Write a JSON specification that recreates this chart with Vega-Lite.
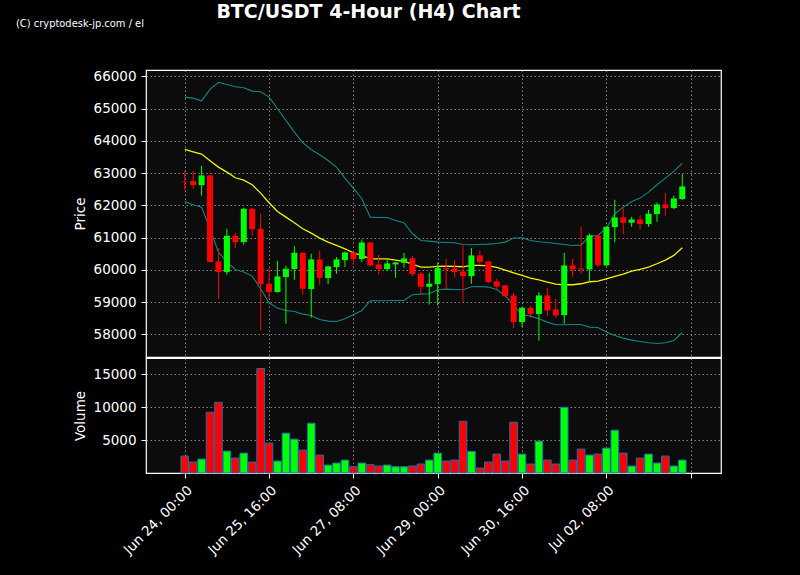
{
  "$schema": "https://vega.github.io/schema/vega-lite/v6.json",
  "background": "black",
  "padding": {"left": 15, "top": 2, "right": 80, "bottom": 30},
  "title": {"text": "BTC/USDT 4-Hour (H4) Chart", "fontSize": 19, "font": "DejaVu Sans", "fontWeight": "bold", "color": "white", "anchor": "middle", "offset": -4},
  "spacing": -1,
  "config": {
    "view": {"fill": "#0c0c0c", "stroke": "white", "strokeWidth": 1.2},
    "axis": {"labelColor": "white", "titleColor": "white", "tickColor": "white", "gridColor": "#a0a0a0", "gridDash": [1.5, 2.5], "gridWidth": 0.8, "labelFont": "DejaVu Sans", "titleFont": "DejaVu Sans", "labelFontSize": 13.5, "titleFontSize": 13.5, "titleFontWeight": "normal", "tickSize": 5, "labelPadding": 5, "titlePadding": 6, "domain": false, "labelOverlap": false}
  },
  "datasets": {
    "candles": [
      {"t": "2024-06-24T00:00:00Z", "o": 62740, "h": 63085, "l": 62465, "c": 62725, "v": 2576, "ub": 65359, "mb": 63737, "lb": 62124},
      {"t": "2024-06-24T04:00:00Z", "o": 62755, "h": 63065, "l": 62517, "c": 62630, "v": 1667, "ub": 65328, "mb": 63664, "lb": 62021},
      {"t": "2024-06-24T08:00:00Z", "o": 62630, "h": 63230, "l": 62300, "c": 62930, "v": 2121, "ub": 65245, "mb": 63592, "lb": 61948},
      {"t": "2024-06-24T12:00:00Z", "o": 62930, "h": 62950, "l": 60230, "c": 60243, "v": 9242, "ub": 65597, "mb": 63385, "lb": 61276},
      {"t": "2024-06-24T16:00:00Z", "o": 60264, "h": 60677, "l": 59106, "c": 59933, "v": 10758, "ub": 65814, "mb": 63189, "lb": 60553},
      {"t": "2024-06-24T20:00:00Z", "o": 59933, "h": 61276, "l": 59850, "c": 61059, "v": 3333, "ub": 65752, "mb": 63034, "lb": 60243},
      {"t": "2024-06-25T00:00:00Z", "o": 61059, "h": 61152, "l": 60677, "c": 60863, "v": 2273, "ub": 65680, "mb": 62858, "lb": 60016},
      {"t": "2024-06-25T04:00:00Z", "o": 60863, "h": 61928, "l": 60780, "c": 61897, "v": 3030, "ub": 65649, "mb": 62786, "lb": 59933},
      {"t": "2024-06-25T08:00:00Z", "o": 61897, "h": 61920, "l": 61049, "c": 61266, "v": 1667, "ub": 65545, "mb": 62641, "lb": 59809},
      {"t": "2024-06-25T12:00:00Z", "o": 61276, "h": 61742, "l": 58124, "c": 59561, "v": 15909, "ub": 65525, "mb": 62382, "lb": 59416},
      {"t": "2024-06-25T16:00:00Z", "o": 59571, "h": 60057, "l": 59106, "c": 59313, "v": 4545, "ub": 65359, "mb": 62083, "lb": 58982},
      {"t": "2024-06-25T20:00:00Z", "o": 59313, "h": 60284, "l": 59300, "c": 59798, "v": 1818, "ub": 64997, "mb": 61814, "lb": 58816},
      {"t": "2024-06-26T00:00:00Z", "o": 59778, "h": 60129, "l": 58331, "c": 60036, "v": 6061, "ub": 64636, "mb": 61638, "lb": 58744},
      {"t": "2024-06-26T04:00:00Z", "o": 60026, "h": 60739, "l": 59695, "c": 60532, "v": 5152, "ub": 64274, "mb": 61463, "lb": 58713},
      {"t": "2024-06-26T08:00:00Z", "o": 60532, "h": 60545, "l": 59230, "c": 59416, "v": 3485, "ub": 63943, "mb": 61276, "lb": 58630},
      {"t": "2024-06-26T12:00:00Z", "o": 59406, "h": 60501, "l": 58517, "c": 60326, "v": 7576, "ub": 63736, "mb": 61142, "lb": 58589},
      {"t": "2024-06-26T16:00:00Z", "o": 60326, "h": 60594, "l": 59540, "c": 59757, "v": 2727, "ub": 63571, "mb": 60987, "lb": 58465},
      {"t": "2024-06-26T20:00:00Z", "o": 59747, "h": 60129, "l": 59561, "c": 60108, "v": 1212, "ub": 63395, "mb": 60863, "lb": 58413},
      {"t": "2024-06-27T00:00:00Z", "o": 60088, "h": 60398, "l": 59881, "c": 60326, "v": 1515, "ub": 63189, "mb": 60760, "lb": 58403},
      {"t": "2024-06-27T04:00:00Z", "o": 60305, "h": 60574, "l": 60088, "c": 60543, "v": 1970, "ub": 62848, "mb": 60656, "lb": 58486},
      {"t": "2024-06-27T08:00:00Z", "o": 60543, "h": 60574, "l": 60160, "c": 60336, "v": 960, "ub": 62537, "mb": 60532, "lb": 58610},
      {"t": "2024-06-27T12:00:00Z", "o": 60336, "h": 60946, "l": 60243, "c": 60853, "v": 1515, "ub": 62207, "mb": 60450, "lb": 58744},
      {"t": "2024-06-27T16:00:00Z", "o": 60853, "h": 60865, "l": 60098, "c": 60140, "v": 1263, "ub": 61638, "mb": 60346, "lb": 59044},
      {"t": "2024-06-27T20:00:00Z", "o": 60171, "h": 60470, "l": 59850, "c": 60026, "v": 1061, "ub": 61628, "mb": 60346, "lb": 59044},
      {"t": "2024-06-28T00:00:00Z", "o": 60026, "h": 60326, "l": 59964, "c": 60202, "v": 1212, "ub": 61628, "mb": 60346, "lb": 59044},
      {"t": "2024-06-28T04:00:00Z", "o": 60171, "h": 60243, "l": 59757, "c": 60233, "v": 960, "ub": 61535, "mb": 60305, "lb": 59054},
      {"t": "2024-06-28T08:00:00Z", "o": 60222, "h": 60532, "l": 60067, "c": 60357, "v": 960, "ub": 61463, "mb": 60264, "lb": 59054},
      {"t": "2024-06-28T12:00:00Z", "o": 60357, "h": 60429, "l": 59809, "c": 59871, "v": 1061, "ub": 61121, "mb": 60181, "lb": 59230},
      {"t": "2024-06-28T16:00:00Z", "o": 59881, "h": 59933, "l": 59261, "c": 59478, "v": 1364, "ub": 60915, "mb": 60088, "lb": 59251},
      {"t": "2024-06-28T20:00:00Z", "o": 59478, "h": 59912, "l": 58930, "c": 59571, "v": 1970, "ub": 60894, "mb": 60088, "lb": 59261},
      {"t": "2024-06-29T00:00:00Z", "o": 59561, "h": 60222, "l": 58899, "c": 60057, "v": 3030, "ub": 60863, "mb": 60109, "lb": 59385},
      {"t": "2024-06-29T04:00:00Z", "o": 60057, "h": 60346, "l": 59395, "c": 60016, "v": 1818, "ub": 60853, "mb": 60119, "lb": 59406},
      {"t": "2024-06-29T08:00:00Z", "o": 60047, "h": 60315, "l": 59757, "c": 59933, "v": 1970, "ub": 60842, "mb": 60109, "lb": 59395},
      {"t": "2024-06-29T12:00:00Z", "o": 59953, "h": 60760, "l": 59013, "c": 59809, "v": 7879, "ub": 60791, "mb": 60098, "lb": 59385},
      {"t": "2024-06-29T16:00:00Z", "o": 59809, "h": 60677, "l": 59571, "c": 60450, "v": 3283, "ub": 60780, "mb": 60140, "lb": 59478},
      {"t": "2024-06-29T20:00:00Z", "o": 60450, "h": 60594, "l": 60181, "c": 60243, "v": 758, "ub": 60791, "mb": 60140, "lb": 59488},
      {"t": "2024-06-30T00:00:00Z", "o": 60264, "h": 60284, "l": 59592, "c": 59623, "v": 1667, "ub": 60801, "mb": 60129, "lb": 59468},
      {"t": "2024-06-30T04:00:00Z", "o": 59643, "h": 59726, "l": 59395, "c": 59488, "v": 2879, "ub": 60822, "mb": 60078, "lb": 59395},
      {"t": "2024-06-30T08:00:00Z", "o": 59519, "h": 59540, "l": 59158, "c": 59189, "v": 1818, "ub": 60863, "mb": 59995, "lb": 59209},
      {"t": "2024-06-30T12:00:00Z", "o": 59209, "h": 59292, "l": 58196, "c": 58382, "v": 7727, "ub": 60987, "mb": 59912, "lb": 58899},
      {"t": "2024-06-30T16:00:00Z", "o": 58382, "h": 58840, "l": 58227, "c": 58827, "v": 2879, "ub": 60997, "mb": 59829, "lb": 58610},
      {"t": "2024-06-30T20:00:00Z", "o": 58827, "h": 58878, "l": 58517, "c": 58630, "v": 1364, "ub": 60915, "mb": 59747, "lb": 58568},
      {"t": "2024-07-01T00:00:00Z", "o": 58630, "h": 59313, "l": 57804, "c": 59209, "v": 4848, "ub": 60873, "mb": 59695, "lb": 58486},
      {"t": "2024-07-01T04:00:00Z", "o": 59209, "h": 59447, "l": 58568, "c": 58744, "v": 1970, "ub": 60853, "mb": 59623, "lb": 58382},
      {"t": "2024-07-01T08:00:00Z", "o": 58775, "h": 59106, "l": 58517, "c": 58589, "v": 1364, "ub": 60822, "mb": 59561, "lb": 58300},
      {"t": "2024-07-01T12:00:00Z", "o": 58599, "h": 60532, "l": 58331, "c": 60140, "v": 10000, "ub": 60791, "mb": 59540, "lb": 58300},
      {"t": "2024-07-01T16:00:00Z", "o": 60140, "h": 60346, "l": 59788, "c": 60016, "v": 1970, "ub": 60760, "mb": 59540, "lb": 58310},
      {"t": "2024-07-01T20:00:00Z", "o": 60047, "h": 61338, "l": 59881, "c": 60016, "v": 3636, "ub": 60770, "mb": 59571, "lb": 58310},
      {"t": "2024-07-02T00:00:00Z", "o": 60016, "h": 61121, "l": 59623, "c": 61070, "v": 2727, "ub": 61049, "mb": 59633, "lb": 58227},
      {"t": "2024-07-02T04:00:00Z", "o": 61070, "h": 61080, "l": 60098, "c": 60140, "v": 2879, "ub": 61070, "mb": 59654, "lb": 58217},
      {"t": "2024-07-02T08:00:00Z", "o": 60140, "h": 61350, "l": 60120, "c": 61338, "v": 3788, "ub": 61297, "mb": 59726, "lb": 58072},
      {"t": "2024-07-02T12:00:00Z", "o": 61328, "h": 62176, "l": 60853, "c": 61628, "v": 6515, "ub": 61742, "mb": 59798, "lb": 57969},
      {"t": "2024-07-02T16:00:00Z", "o": 61628, "h": 61948, "l": 61101, "c": 61463, "v": 3030, "ub": 61948, "mb": 59871, "lb": 57886},
      {"t": "2024-07-02T20:00:00Z", "o": 61463, "h": 61649, "l": 61338, "c": 61566, "v": 1061, "ub": 62124, "mb": 59964, "lb": 57824},
      {"t": "2024-07-03T00:00:00Z", "o": 61566, "h": 61700, "l": 61245, "c": 61421, "v": 2273, "ub": 62227, "mb": 60016, "lb": 57783},
      {"t": "2024-07-03T04:00:00Z", "o": 61421, "h": 61866, "l": 61338, "c": 61742, "v": 2879, "ub": 62413, "mb": 60088, "lb": 57742},
      {"t": "2024-07-03T08:00:00Z", "o": 61731, "h": 62093, "l": 61494, "c": 62031, "v": 1515, "ub": 62641, "mb": 60191, "lb": 57721},
      {"t": "2024-07-03T12:00:00Z", "o": 62031, "h": 62393, "l": 61680, "c": 61917, "v": 2576, "ub": 62848, "mb": 60305, "lb": 57742},
      {"t": "2024-07-03T16:00:00Z", "o": 61917, "h": 62300, "l": 61886, "c": 62217, "v": 1061, "ub": 63054, "mb": 60450, "lb": 57814},
      {"t": "2024-07-03T20:00:00Z", "o": 62196, "h": 62972, "l": 62165, "c": 62589, "v": 1970, "ub": 63313, "mb": 60687, "lb": 58052}
    ]
  },
  "vconcat": [
    {
      "width": 575,
      "height": 287,
      "data": {"name": "candles"},
      "title": {"text": "(C) cryptodesk-jp.com / el", "anchor": "start", "frame": "group", "dx": -130, "offset": 40, "fontSize": 11, "font": "DejaVu Sans Condensed, Liberation Sans, sans-serif", "fontWeight": "normal", "color": "white"},
      "encoding": {
        "x": {"field": "t", "type": "temporal", "title": null,
          "scale": {"type": "utc", "domain": [{"year": 2024, "month": 6, "date": 23, "hours": 8, "utc": true}, {"year": 2024, "month": 7, "date": 4, "hours": 12, "utc": true}]},
          "axis": {"values": [
            {"year": 2024, "month": 6, "date": 24, "hours": 0, "utc": true},
            {"year": 2024, "month": 6, "date": 25, "hours": 16, "utc": true},
            {"year": 2024, "month": 6, "date": 27, "hours": 8, "utc": true},
            {"year": 2024, "month": 6, "date": 29, "hours": 0, "utc": true},
            {"year": 2024, "month": 6, "date": 30, "hours": 16, "utc": true},
            {"year": 2024, "month": 7, "date": 2, "hours": 8, "utc": true},
            {"year": 2024, "month": 7, "date": 4, "hours": 0, "utc": true}
          ], "labels": false, "ticks": false, "grid": true}
        }
      },
      "layer": [
        {"mark": {"type": "line", "color": "#138585", "strokeWidth": 1.1},
         "encoding": {"y": {"field": "ub", "type": "quantitative", "title": "Price", "scale": {"domain": [57300, 66200], "nice": false, "zero": false}, "axis": {"values": [58000, 59000, 60000, 61000, 62000, 63000, 64000, 65000, 66000], "format": "d", "grid": true, "labelOverlap": false}}}},
        {"mark": {"type": "line", "color": "#138585", "strokeWidth": 1.1},
         "encoding": {"y": {"field": "lb", "type": "quantitative", "title": "Price", "axis": {"values": [58000, 59000, 60000, 61000, 62000, 63000, 64000, 65000, 66000], "format": "d", "grid": true, "labelOverlap": false}}}},
        {"mark": {"type": "line", "color": "#f2f200", "strokeWidth": 1.3},
         "encoding": {"y": {"field": "mb", "type": "quantitative", "title": "Price", "axis": {"values": [58000, 59000, 60000, 61000, 62000, 63000, 64000, 65000, 66000], "format": "d", "grid": true, "labelOverlap": false}}}},
        {"mark": {"type": "rule", "strokeWidth": 1},
         "encoding": {"y": {"field": "l", "type": "quantitative", "title": "Price", "axis": {"values": [58000, 59000, 60000, 61000, 62000, 63000, 64000, 65000, 66000], "format": "d", "grid": true, "labelOverlap": false}}, "y2": {"field": "h"},
           "color": {"condition": {"test": "datum.c >= datum.o", "value": "#00ff00"}, "value": "#ff0000"}}},
        {"mark": {"type": "bar", "size": 6},
         "encoding": {"y": {"field": "o", "type": "quantitative", "title": "Price", "axis": {"values": [58000, 59000, 60000, 61000, 62000, 63000, 64000, 65000, 66000], "format": "d", "grid": true, "labelOverlap": false}}, "y2": {"field": "c"},
           "color": {"condition": {"test": "datum.c >= datum.o", "value": "#00ff00"}, "value": "#ff0000"}}}
      ]
    },
    {
      "width": 575,
      "height": 115,
      "data": {"name": "candles"},
      "mark": {"type": "bar", "size": 7.6, "stroke": "#1f6fae", "strokeWidth": 1},
      "encoding": {
        "x": {"field": "t", "type": "temporal", "title": null,
          "scale": {"type": "utc", "domain": [{"year": 2024, "month": 6, "date": 23, "hours": 8, "utc": true}, {"year": 2024, "month": 7, "date": 4, "hours": 12, "utc": true}]},
          "axis": {"values": [
            {"year": 2024, "month": 6, "date": 24, "hours": 0, "utc": true},
            {"year": 2024, "month": 6, "date": 25, "hours": 16, "utc": true},
            {"year": 2024, "month": 6, "date": 27, "hours": 8, "utc": true},
            {"year": 2024, "month": 6, "date": 29, "hours": 0, "utc": true},
            {"year": 2024, "month": 6, "date": 30, "hours": 16, "utc": true},
            {"year": 2024, "month": 7, "date": 2, "hours": 8, "utc": true},
            {"year": 2024, "month": 7, "date": 4, "hours": 0, "utc": true}
          ], "format": "%b %d, %H:%M", "labelAngle": -45, "labelExpr": "datum.value > 1720000000000 ? '' : datum.label", "grid": true, "labelOverlap": false}
        },
        "y": {"field": "v", "type": "quantitative", "title": "Volume", "scale": {"domain": [0, 17500], "nice": false}, "axis": {"values": [5000, 10000, 15000], "format": "d", "grid": true}},
        "color": {"condition": {"test": "datum.c >= datum.o", "value": "#00ff00"}, "value": "#ff0000"}
      }
    }
  ]
}
